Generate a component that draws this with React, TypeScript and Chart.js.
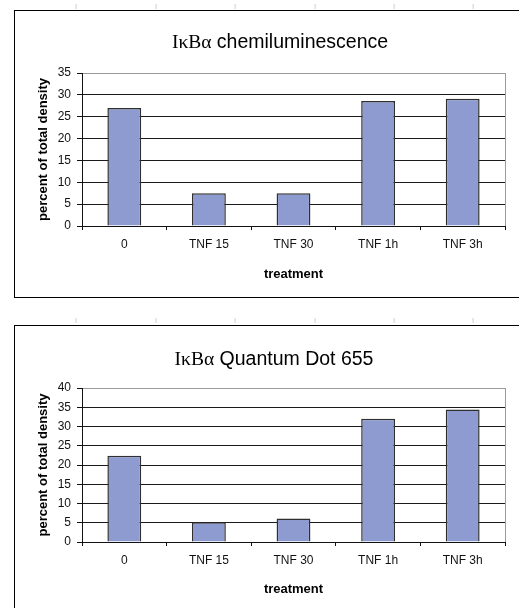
import React, { useEffect, useRef } from 'react';
import { Chart, registerables } from 'chart.js';

Chart.register(...registerables);

const categories = ['0', 'TNF 15', 'TNF 30', 'TNF 1h', 'TNF 3h'];
const chemiValues = [27.0, 7.5, 7.5, 28.6, 29.1];
const qdotValues = [22.4, 5.1, 6.1, 32.0, 34.4];
const chemiMax = 35;
const qdotMax = 40;
const tickStep = 5;
const titlePrefix = 'IκBα';
const chemiTitle = 'chemiluminescence';
const qdotTitle = 'Quantum Dot 655';
const xAxisTitle = 'treatment';
const yAxisTitle = 'percent of total density';

const SANS = "'Liberation Sans', Arial, Helvetica, sans-serif";
const SERIF = "'Liberation Serif', 'Times New Roman', serif";

const plotFramePlugin = {
  id: 'plotFrame',
  beforeDatasetsDraw(chart: any) {
    const { ctx, chartArea } = chart;
    const x = Math.round(chartArea.right) + 0.5;
    ctx.save();
    ctx.strokeStyle = '#9a9a9a';
    ctx.lineWidth = 1;
    ctx.beginPath();
    ctx.moveTo(x, chartArea.top);
    ctx.lineTo(x, chartArea.bottom);
    ctx.stroke();
    ctx.restore();
  },
};

const mixedTitlePlugin = {
  id: 'mixedTitle',
  afterDraw(chart: any, _args: any, opts: any) {
    const { ctx } = chart;
    ctx.save();
    ctx.fillStyle = '#000';
    ctx.textBaseline = 'alphabetic';
    ctx.textAlign = 'left';
    const serifFont = `${opts.size}px ${SERIF}`;
    const sansFont = `${opts.size}px ${SANS}`;
    ctx.font = serifFont;
    const w1 = ctx.measureText(opts.prefix).width;
    ctx.font = sansFont;
    const rest = ' ' + opts.text;
    const w2 = ctx.measureText(rest).width;
    const start = opts.centerX - (w1 + w2) / 2;
    ctx.font = serifFont;
    ctx.fillText(opts.prefix, start, opts.baseline);
    ctx.font = sansFont;
    ctx.fillText(rest, start + w1, opts.baseline);
    ctx.restore();
  },
};

type PanelProps = {
  values: number[];
  max: number;
  title: string;
  width: number;
  height: number;
  xAxisHeight: number;
  xTitlePad: number;
  titleCenterX: number;
  titleBaseline: number;
};

function BarPanel(p: PanelProps) {
  const ref = useRef<HTMLCanvasElement | null>(null);
  useEffect(() => {
    if (!ref.current) return;
    const chart = new Chart(ref.current, {
      type: 'bar',
      data: {
        labels: categories,
        datasets: [
          {
            data: p.values,
            backgroundColor: '#8e9bd0',
            borderColor: '#2f2f2f',
            borderWidth: 1.5,
            barPercentage: 0.4,
            categoryPercentage: 1,
          },
        ],
      },
      plugins: [plotFramePlugin, mixedTitlePlugin],
      options: {
        animation: false,
        responsive: false,
        maintainAspectRatio: false,
        devicePixelRatio: 1,
        layout: { padding: { top: 62, right: 14, left: 0, bottom: 0 } },
        plugins: {
          legend: { display: false },
          tooltip: { enabled: false },
          title: { display: false },
          mixedTitle: {
            prefix: titlePrefix,
            text: p.title,
            size: 19.5,
            centerX: p.titleCenterX,
            baseline: p.titleBaseline,
          },
        } as any,
        scales: {
          x: {
            type: 'category',
            offset: true,
            grid: {
              offset: true,
              drawOnChartArea: false,
              drawTicks: true,
              tickLength: 4,
              color: '#111',
              tickColor: '#111',
              lineWidth: 1,
            },
            border: { display: true, color: '#111', width: 1 },
            ticks: {
              color: '#111',
              font: { family: SANS, size: 12 },
              padding: 7,
              maxRotation: 0,
              autoSkip: false,
            },
            title: {
              display: true,
              text: xAxisTitle,
              color: '#000',
              font: { family: SANS, size: 13, weight: 'bold' },
              padding: { top: 0, bottom: p.xTitlePad },
            },
            afterFit: (s: any) => {
              s.height = p.xAxisHeight;
            },
          },
          y: {
            min: 0,
            max: p.max,
            ticks: {
              stepSize: tickStep,
              color: '#111',
              font: { family: SANS, size: 12 },
              padding: 6,
            },
            grid: {
              color: (c: any) => (c.tick && c.tick.value === p.max ? '#9a9a9a' : '#1a1a1a'),
              tickColor: '#111',
              tickLength: 5,
              drawTicks: true,
              lineWidth: 1,
            },
            border: { display: true, color: '#111', width: 1 },
            title: {
              display: true,
              text: yAxisTitle,
              color: '#000',
              font: { family: SANS, size: 13, weight: 'bold' },
              padding: { top: 21, bottom: 0 },
            },
            afterFit: (s: any) => {
              s.width = 67;
            },
          },
        },
      } as any,
    });
    return () => chart.destroy();
  }, []);
  return <canvas ref={ref} width={p.width} height={p.height} style={{ display: 'block' }} />;
}

export default function App() {
  useEffect(() => {
    document.body.style.margin = '0';
  }, []);
  const ruler = {
    position: 'absolute' as const,
    left: 0,
    width: 519,
    height: 5,
    backgroundImage:
      'repeating-linear-gradient(90deg, transparent 0px, transparent 78.4px, #cfcfcf 78.4px, #cfcfcf 79.4px)',
    backgroundPosition: '-2.4px 0',
  };
  return (
    <div style={{ position: 'relative', width: 519, height: 608, overflow: 'hidden', background: '#fff' }}>
      <div style={{ ...ruler, top: 4 }} />
      <div style={{ ...ruler, top: 318 }} />
      <div
        style={{
          position: 'absolute',
          left: 14,
          top: 10,
          width: 530,
          height: 286,
          border: '1px solid #000',
        }}
      >
        <BarPanel
          values={chemiValues}
          max={chemiMax}
          title={chemiTitle}
          width={504}
          height={286}
          xAxisHeight={71}
          xTitlePad={15}
          titleCenterX={265}
          titleBaseline={37}
        />
      </div>
      <div
        style={{
          position: 'absolute',
          left: 14,
          top: 325,
          width: 530,
          height: 300,
          border: '1px solid #000',
        }}
      >
        <BarPanel
          values={qdotValues}
          max={qdotMax}
          title={qdotTitle}
          width={504}
          height={282}
          xAxisHeight={66}
          xTitlePad={11}
          titleCenterX={259}
          titleBaseline={39}
        />
      </div>
    </div>
  );
}
